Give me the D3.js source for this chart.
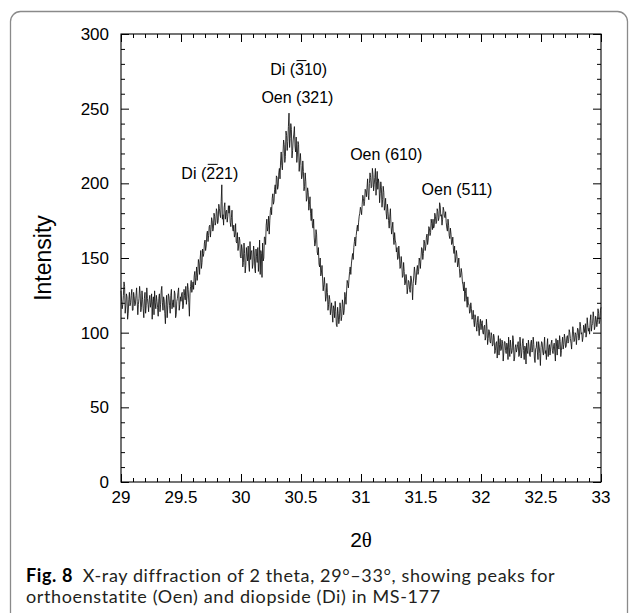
<!DOCTYPE html>
<html>
<head>
<meta charset="utf-8">
<script src="https://cdn.jsdelivr.net/npm/d3@7"></script>
<style>
  html, body { margin: 0; padding: 0; background: #fff; }
  svg { display: block; }
</style>
</head>
<body>
<div id="chart"></div>
<script>
// XRD trace, 2θ 29–33°, one reading every 0.005°, 20 per row = 0.1°
const X_START = 29;
const X_STEP = 0.005;
const intensity = [
  128,121,116,119,125,134,131,113,118,126,124,109,113,122,127,118,120,125,129,115,
  115,127,124,118,119,125,130,121,112,119,123,131,126,114,117,128,122,116,110,123,
  127,113,118,130,123,119,114,122,125,117,120,126,109,121,124,112,128,120,116,125,
  121,117,111,123,126,114,119,128,131,120,115,124,122,113,106,119,125,110,118,126,
  124,118,113,125,129,116,120,122,117,128,126,110,112,121,123,127,130,115,119,124,
  121,126,127,116,118,129,125,122,131,119,124,133,129,120,111,126,131,135,127,130,
  134,129,138,141,132,137,144,135,140,149,146,139,150,155,143,147,156,151,153,160,
  162,155,158,166,168,161,165,171,172,164,169,177,175,168,170,180,178,172,174,183,
  181,173,175,186,183,179,177,188,199,176,179,172,184,187,176,181,182,174,178,185,
  180,185,174,171,177,182,170,168,172,164,166,173,161,160,167,155,158,164,162,151,
  150,159,156,144,147,160,153,140,145,157,152,148,158,146,141,161,149,154,155,143,
  146,158,154,143,140,156,151,147,157,141,148,162,139,155,153,137,160,148,150,164,
  164,159,172,176,168,171,178,166,175,182,184,179,190,193,186,188,196,199,193,205,
  204,196,198,207,210,203,215,221,212,209,220,229,226,214,218,235,232,222,228,238,
  247,224,230,240,236,217,222,229,233,238,225,221,231,214,219,228,226,208,215,220,
  212,203,205,215,208,195,198,207,201,188,190,197,194,182,186,191,180,175,183,172,
  170,176,164,158,160,169,166,154,152,157,146,144,150,138,140,145,136,128,132,137,
  130,121,124,133,127,115,119,125,122,112,116,120,113,107,118,116,110,121,114,105,
  104,117,113,106,109,120,116,108,111,122,119,112,115,127,124,119,128,135,133,130,
  136,141,144,139,146,150,153,149,157,161,164,158,165,169,172,168,174,178,180,184,
  182,179,186,192,190,185,188,196,195,191,197,203,192,189,200,207,204,197,198,210,
  206,195,199,204,210,192,201,208,196,203,200,187,193,201,197,184,189,198,194,182,
  185,190,180,176,186,181,175,170,178,183,172,166,170,174,164,159,167,162,160,154,
  157,149,150,158,152,143,144,151,146,137,138,147,141,132,133,139,136,126,130,135,
  134,129,127,138,136,131,122,133,138,144,140,132,135,142,145,139,141,150,148,143,
  150,157,156,149,153,162,160,155,158,164,166,159,162,171,170,165,167,176,173,169,
  176,170,171,180,178,173,174,183,181,175,177,187,185,178,179,172,176,184,182,178,
  177,181,174,170,168,176,172,165,163,170,166,159,160,164,156,153,158,147,150,155,
  151,144,146,150,143,137,138,143,140,134,132,128,134,121,126,130,122,117,124,119,
  119,113,114,120,116,109,110,115,108,104,112,110,105,101,107,111,103,98,106,109,
  102,106,108,100,99,104,105,95,97,109,103,92,96,102,101,94,93,100,98,91,
  92,99,97,86,88,93,94,83,91,98,85,92,96,88,89,95,93,81,87,94,
  94,88,86,93,91,82,97,90,84,95,90,86,88,98,95,81,83,90,92,87,
  89,92,94,84,85,97,91,83,87,93,96,88,82,91,90,79,93,88,86,95,
  91,85,84,93,95,87,88,97,92,83,80,89,90,94,87,82,94,91,86,78,
  90,94,93,87,85,91,97,86,88,82,91,96,84,90,92,85,89,93,95,88,
  86,91,93,87,81,96,91,85,95,90,89,98,94,84,88,93,97,89,92,99,
  96,90,91,97,98,93,94,102,100,96,93,89,97,104,101,94,95,100,99,92,
  98,103,102,95,96,107,104,99,100,94,97,105,103,100,106,97,99,110,105,101,
  103,99,108,112,101,105,106,114,110,102,104,111,109,104,107,116,113,106,108,115,
  117
];

const xTicks = [29, 29.5, 30, 30.5, 31, 31.5, 32, 32.5, 33];
const yTicks = [0, 50, 100, 150, 200, 250, 300];

// peak labels: text before the barred digit, barred digit, text after; anchored in data units
const peakLabels = [
  { pre: "Di (", bar: "2", post: "21)", x: 29.74, y: 203 },
  { pre: "Di (", bar: "3", post: "10)", x: 30.48, y: 272.5 },
  { pre: "Oen (321)", bar: "", post: "", x: 30.47, y: 253.5 },
  { pre: "Oen (610)", bar: "", post: "", x: 31.21, y: 215.5 },
  { pre: "Oen (511)", bar: "", post: "", x: 31.80, y: 192 }
];

const captionBold = "Fig. 8";
const captionLines = [
  "X-ray diffraction of 2 theta, 29°–33°, showing peaks for",
  "orthoenstatite (Oen) and diopside (Di) in MS-177"
];

const W = 629, H = 613;
const margin = { top: 34, right: 30, bottom: 131, left: 121 };
const sans = "Liberation Sans, Arial, Helvetica, sans-serif";

const svg = d3.select("#chart").append("svg")
  .attr("width", W).attr("height", H);

// figure frame
svg.append("rect")
  .attr("x", 10.5).attr("y", 11.5)
  .attr("width", 617).attr("height", 640)
  .attr("rx", 10)
  .attr("fill", "none").attr("stroke", "#8a8a8a").attr("stroke-width", 1.3);

const x = d3.scaleLinear().domain([29, 33]).range([margin.left, W - margin.right + 2]);
const y = d3.scaleLinear().domain([0, 300]).range([H - margin.bottom, margin.top]);

const x0 = x.range()[0], x1 = x.range()[1];
const y0 = y.range()[0], y1 = y.range()[1];

// axes: ticks point inward on all four sides
const minorX = d3.range(290, 331).map(d => d / 10).filter(d => Math.round(d * 10) % 5 !== 0);
const minorY = d3.range(0, 301, 10).filter(d => d % 50 !== 0);

function tickAxis(axisFn, scale, values, size, transform) {
  svg.append("g")
    .attr("transform", transform)
    .call(axisFn(scale).tickValues(values).tickSize(size).tickFormat(""))
    .call(g => g.select(".domain").remove())
    .call(g => g.selectAll("line").attr("stroke", "#000").attr("stroke-width", 1));
}
tickAxis(d3.axisTop, x, minorX, 4, `translate(0,${y0})`);
tickAxis(d3.axisTop, x, xTicks, 8, `translate(0,${y0})`);
tickAxis(d3.axisBottom, x, minorX, 4, `translate(0,${y1})`);
tickAxis(d3.axisBottom, x, xTicks, 8, `translate(0,${y1})`);
tickAxis(d3.axisRight, y, minorY, 4, `translate(${x0},0)`);
tickAxis(d3.axisRight, y, yTicks, 8, `translate(${x0},0)`);
tickAxis(d3.axisLeft, y, minorY, 4, `translate(${x1},0)`);
tickAxis(d3.axisLeft, y, yTicks, 8, `translate(${x1},0)`);

// tick labels
svg.append("g").selectAll("text").data(xTicks).join("text")
  .attr("x", d => x(d)).attr("y", y0 + 21)
  .attr("text-anchor", "middle")
  .attr("font-family", sans).attr("font-size", 17)
  .text(d => d);
svg.append("g").selectAll("text").data(yTicks).join("text")
  .attr("x", x0 - 12).attr("y", d => y(d) + 6)
  .attr("text-anchor", "end")
  .attr("font-family", sans).attr("font-size", 17)
  .text(d => d);

// plot frame
svg.append("rect")
  .attr("x", x0).attr("y", y1)
  .attr("width", x1 - x0).attr("height", y0 - y1)
  .attr("fill", "none").attr("stroke", "#000").attr("stroke-width", 1.1);

// trace
const line = d3.line()
  .x((d, i) => x(X_START + i * X_STEP))
  .y(d => y(d));
svg.append("path")
  .datum(intensity)
  .attr("d", line)
  .attr("fill", "none")
  .attr("stroke", "#111")
  .attr("stroke-width", 0.85);

// peak labels with overbar on one Miller index digit
peakLabels.forEach(p => {
  const t = svg.append("text")
    .attr("x", x(p.x)).attr("y", y(p.y))
    .attr("text-anchor", "middle")
    .attr("font-family", sans).attr("font-size", 16)
    .text(p.pre + p.bar + p.post);
  if (p.bar) {
    const node = t.node();
    const total = node.getComputedTextLength();
    const start = node.getSubStringLength(0, p.pre.length);
    const w = node.getSubStringLength(p.pre.length, 1);
    const left = x(p.x) - total / 2 + start;
    svg.append("line")
      .attr("x1", left + 1.5).attr("x2", left + w + 2.5)
      .attr("y1", y(p.y) - 14.5).attr("y2", y(p.y) - 14.5)
      .attr("stroke", "#000").attr("stroke-width", 1);
  }
});

// axis titles
svg.append("text")
  .attr("transform", `translate(51,${(y0 + y1) / 2}) rotate(-90)`)
  .attr("text-anchor", "middle")
  .attr("font-family", sans).attr("font-size", 23)
  .text("Intensity");

const xt = svg.append("text")
  .attr("x", (x0 + x1) / 2).attr("y", y0 + 65)
  .attr("text-anchor", "middle")
  .attr("font-family", sans).attr("font-size", 21);
xt.append("tspan").text("2");
xt.append("tspan").attr("font-family", "Liberation Serif, DejaVu Serif, serif").text("θ");

// caption: fixed size, letter spacing stretched so line one spans the figure's width
const cap = svg.append("g")
  .attr("font-family", "Lato, Open Sans, sans-serif")
  .attr("font-size", 18).attr("fill", "#231f20");
const l1 = cap.append("text").attr("x", 26).attr("y", 582);
l1.append("tspan").attr("font-weight", "bold").attr("fill", "#000").text(captionBold);
l1.append("tspan").text("\u2002" + captionLines[0]);
cap.append("text").attr("x", 26).attr("y", 603).text(captionLines[1]);
const capW = l1.node().getComputedTextLength();
const nChars = captionBold.length + 1 + captionLines[0].length;
cap.attr("letter-spacing", Math.max(0, (529 - capW) / nChars).toFixed(2));
</script>
</body>
</html>
